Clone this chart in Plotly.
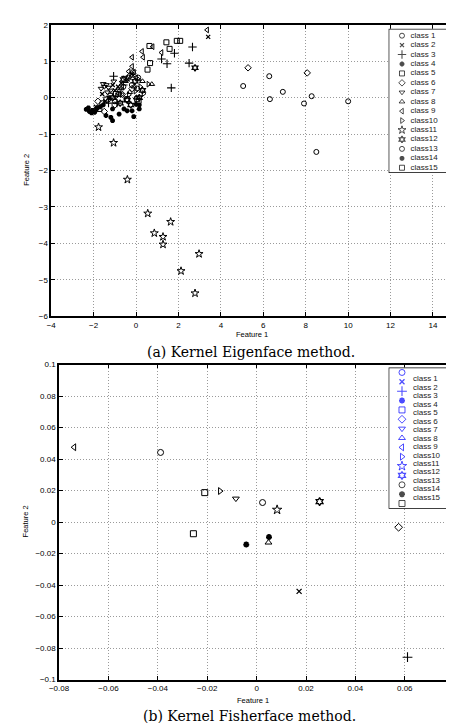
import plotly.graph_objects as go

# ---------------- data ----------------
class_labels = ["class 1", "class 2", "class 3", "class 4", "class 5", "class 6", "class 7",
                "class 8", "class 9", "class10", "class11", "class12", "class13", "class14", "class15"]

# (a) Kernel Eigenface method: one x/y list per class
eig_c01_x = [5.05, 6.28, 6.92, 6.31, 7.92, 8.28, 10.0, 8.5]
eig_c01_y = [0.32, 0.59, 0.16, -0.04, -0.16, 0.04, -0.1, -1.49]
eig_c02_x = [3.40, -1.60, -1.30, -1.00, -0.70, -1.90, -0.40, -1.10, -0.20, -1.45, -0.85]
eig_c02_y = [1.67, 0.10, 0.00, 0.20, 0.40, -0.25, 0.50, 0.35, 0.65, -0.10, 0.30]
eig_c03_x = [2.66, 2.50, 1.81, 1.46, 1.20, 1.66, -1.06, -0.90, -1.30, -0.60]
eig_c03_y = [1.39, 0.95, 1.22, 0.93, 1.06, 0.27, 0.59, -0.15, -0.15, 0.35]
eig_c04_x = [-1.42, -1.19, -1.11, -0.80, -0.57, -0.42, -0.19, -0.11, 0.00, 0.15, 0.15, -1.11]
eig_c04_y = [-0.49, -0.54, -0.63, -0.45, -0.31, -0.36, -0.36, -0.52, -0.18, -0.20, -0.31, -0.31]
eig_c05_x = [1.43, 1.92, 2.08, 1.58, -0.42, 0.05, 0.12, -1.20]
eig_c05_y = [1.52, 1.56, 1.56, 1.34, -0.04, -0.04, -0.09, 0.05]
eig_c06_x = [5.28, 8.07, -1.50, -0.65, -0.19, -1.00, -1.80, -0.30]
eig_c06_y = [0.82, 0.68, -0.38, 0.09, 0.25, -0.20, -0.10, 0.60]
eig_c07_x = [-1.55, -1.40, -1.30, -1.50, -1.20, -1.65, -1.05, -0.80, -0.55, -1.35]
eig_c07_y = [0.38, 0.35, 0.28, 0.30, 0.20, 0.25, 0.45, 0.20, 0.55, 0.15]
eig_c08_x = [0.74, -0.10, -0.30, 0.10, -0.50, 0.00, -0.20, 0.30, -0.70]
eig_c08_y = [0.37, 0.30, 0.15, 0.50, 0.45, 0.00, 0.60, 0.45, 0.25]
eig_c09_x = [3.35, 0.78, 1.20, 0.28, -0.19, 0.33, -0.19, -0.10, 0.00, -0.35]
eig_c09_y = [1.86, 1.40, 1.24, 1.27, 1.11, 1.11, 0.86, 0.70, 0.55, 0.72]
eig_c10_x = [0.58, 0.35, -0.34, -0.68, -0.03, -0.90, 0.20, -1.25]
eig_c10_y = [0.37, 0.11, 0.08, 0.09, 0.18, 0.05, 0.30, -0.05]
eig_c11_x = [-1.77, -1.06, -0.41, 0.55, 0.86, 1.27, 1.27, 1.63, 2.97, 2.12, 2.78]
eig_c11_y = [-0.81, -1.24, -2.25, -3.18, -3.72, -3.82, -4.03, -3.41, -4.29, -4.76, -5.37]
eig_c12_x = [2.78, -0.42, -0.25, -0.60, -0.05, 0.15, -1.10, -0.75, 0.30]
eig_c12_y = [0.82, -0.07, -0.20, 0.50, 0.45, 0.00, 0.00, -0.15, 0.20]
eig_c13_x = [-0.35, -0.60, -0.20, 0.10, -0.80, -1.00, -0.45, -0.15, 0.05, -1.60]
eig_c13_y = [0.55, 0.30, 0.35, 0.55, 0.10, -0.10, -0.05, 0.70, 0.25, -0.15]
eig_c14_x = [-2.35, -2.20, -2.05, -1.95, -2.25, -1.85, -1.70, -1.55, -2.10]
eig_c14_y = [-0.32, -0.38, -0.35, -0.40, -0.28, -0.30, -0.25, -0.20, -0.42]
eig_c15_x = [0.63, 0.66, 0.54, -1.73, -1.40, -0.95]
eig_c15_y = [1.42, 0.95, 0.77, -0.31, -0.05, 0.10]

# (b) Kernel Fisherface method: one point per class
fish_x = [0.0024, 0.0172, 0.0611, 0.0050, -0.0210, 0.0575, -0.0084, 0.0048,
          -0.0739, -0.0148, 0.0083, 0.0255, -0.0389, -0.0042, -0.0256]
fish_y = [0.0124, -0.0440, -0.0858, -0.0095, 0.0187, -0.0033, 0.0149, -0.0130,
          0.0475, 0.0197, 0.0078, 0.0130, 0.0442, -0.0143, -0.0074]

# tick labels
eig_xticks = [-4, -2, 0, 2, 4, 6, 8, 10, 12, 14]
eig_xticktext = ["\u22124", "\u22122", "0", "2", "4", "6", "8", "10", "12", "14"]
eig_yticks = [-6, -5, -4, -3, -2, -1, 0, 1, 2]
eig_yticktext = ["\u22126", "\u22125", "\u22124", "\u22123", "\u22122", "\u22121", "0", "1", "2"]
fish_xticks = [-0.08, -0.06, -0.04, -0.02, 0, 0.02, 0.04, 0.06, 0.08]
fish_xticktext = ["\u22120.08", "\u22120.06", "\u22120.04", "\u22120.02", "0", "0.02", "0.04", "0.06", "0.08"]
fish_yticks = [-0.1, -0.08, -0.06, -0.04, -0.02, 0, 0.02, 0.04, 0.06, 0.08, 0.1]
fish_yticktext = ["\u22120.1", "\u22120.08", "\u22120.06", "\u22120.04", "\u22120.02", "0",
                  "0.02", "0.04", "0.06", "0.08", "0.1"]

# ---------------- styles ----------------
SYMBOLS = ["circle-open", "x-thin-open", "cross-thin-open", "asterisk-open", "square-open",
           "diamond-open", "triangle-down-open", "triangle-up-open", "triangle-left-open",
           "triangle-right-open", "star-open", "hexagram-open", "circle-open", "asterisk-open",
           "square-open"]
SIZES = [5, 4, 6, 4, 5, 5, 5, 5, 5, 5, 6, 5, 5, 4, 5]
LWIDTH = [1, 1.3, 1.1, 1.8, 1, 1, 1, 1, 1, 1, 1, 1.3, 1, 1.8, 1]
FISH_LEG_COLORS = ["#0000ff"] * 12 + ["#000000"] * 3

EIG_X = [eig_c01_x, eig_c02_x, eig_c03_x, eig_c04_x, eig_c05_x, eig_c06_x, eig_c07_x, eig_c08_x,
         eig_c09_x, eig_c10_x, eig_c11_x, eig_c12_x, eig_c13_x, eig_c14_x, eig_c15_x]
EIG_Y = [eig_c01_y, eig_c02_y, eig_c03_y, eig_c04_y, eig_c05_y, eig_c06_y, eig_c07_y, eig_c08_y,
         eig_c09_y, eig_c10_y, eig_c11_y, eig_c12_y, eig_c13_y, eig_c14_y, eig_c15_y]

W, H = 454, 723
def px_x(p):
    return p / W
def px_y(p):
    return 1 - p / H

SANS = "Liberation Sans, Arial, Helvetica, sans-serif"
SERIF = "DejaVu Serif, Liberation Serif, serif"

fig = go.Figure()

# (a) data
for i in range(15):
    fig.add_trace(go.Scatter(
        x=EIG_X[i], y=EIG_Y[i], mode="markers", name=class_labels[i], showlegend=False,
        xaxis="x", yaxis="y",
        marker=dict(symbol=SYMBOLS[i], size=SIZES[i], color="black",
                    line=dict(color="black", width=LWIDTH[i]))))

# (b) data
for i in range(15):
    fig.add_trace(go.Scatter(
        x=[fish_x[i]], y=[fish_y[i]], mode="markers", name=class_labels[i], showlegend=False,
        xaxis="x2", yaxis="y2",
        marker=dict(symbol=SYMBOLS[i], size=SIZES[i] + 1, color="black",
                    line=dict(color="black", width=LWIDTH[i]))))

# legend boxes drawn in their own small axes
n = len(class_labels)
leg1_rows = [1 - (7 + 9.55 * i) / 146 for i in range(n)]
fig.add_trace(go.Scatter(
    x=[0.22] * n, y=leg1_rows, mode="markers", showlegend=False, xaxis="x3", yaxis="y3",
    hoverinfo="skip",
    marker=dict(symbol=SYMBOLS, size=SIZES, color="black",
                line=dict(color="black", width=LWIDTH))))
fig.add_trace(go.Scatter(
    x=[0.36] * n, y=leg1_rows, mode="text", text=class_labels, textposition="middle right",
    showlegend=False, xaxis="x3", yaxis="y3", hoverinfo="skip",
    textfont=dict(family=SANS, size=8, color="#222")))

leg2_mark = [1 - (5 + 9.48 * i) / 143 for i in range(n)]
leg2_text = [1 - (11.7 + 8.6 * i) / 143 for i in range(n)]
fig.add_trace(go.Scatter(
    x=[0.22] * n, y=leg2_mark, mode="markers", showlegend=False, xaxis="x4", yaxis="y4",
    hoverinfo="skip",
    marker=dict(symbol=SYMBOLS, size=[s + 1 for s in SIZES], color=FISH_LEG_COLORS,
                line=dict(color=FISH_LEG_COLORS, width=LWIDTH))))
fig.add_trace(go.Scatter(
    x=[0.40] * n, y=leg2_text, mode="text", text=class_labels, textposition="middle right",
    showlegend=False, xaxis="x4", yaxis="y4", hoverinfo="skip",
    textfont=dict(family=SANS, size=8, color="#222")))

axis_common = dict(showline=True, linecolor="black", linewidth=1.6, mirror="ticks",
                   ticks="inside", ticklen=4, tickcolor="black", tickwidth=1,
                   showgrid=True, gridcolor="#9a9a9a", griddash="1px,2px", gridwidth=0.8,
                   zeroline=False, tickfont=dict(family=SANS, size=8, color="black"))
hidden = dict(visible=False, range=[0, 1], fixedrange=True)

fig.update_layout(
    width=W, height=H, margin=dict(l=0, r=0, t=0, b=0),
    paper_bgcolor="white", plot_bgcolor="white", showlegend=False,
    xaxis=dict(domain=[px_x(34), px_x(446)], range=[-4, 15], anchor="y",
               tickvals=eig_xticks, ticktext=eig_xticktext, **axis_common),
    yaxis=dict(domain=[px_y(308), px_y(13)], range=[-6, 2], anchor="x",
               tickvals=eig_yticks, ticktext=eig_yticktext, **axis_common),
    xaxis2=dict(domain=[px_x(42), px_x(446)], range=[-0.08, 0.08], anchor="y2",
                tickvals=fish_xticks, ticktext=fish_xticktext, **axis_common),
    yaxis2=dict(domain=[px_y(676), px_y(357)], range=[-0.1, 0.1], anchor="x2",
                tickvals=fish_yticks, ticktext=fish_yticktext, **axis_common),
    xaxis3=dict(domain=[px_x(379), px_x(441)], anchor="y3", **hidden),
    yaxis3=dict(domain=[px_y(163), px_y(17)], anchor="x3", **hidden),
    xaxis4=dict(domain=[px_x(379), px_x(441)], anchor="y4", **hidden),
    yaxis4=dict(domain=[px_y(503), px_y(360)], anchor="x4", **hidden),
)

fig.add_shape(type="rect", xref="x3", yref="y3", x0=0, x1=1, y0=0, y1=1,
              line=dict(color="black", width=1.3), fillcolor="white", layer="between")
fig.add_shape(type="rect", xref="x4", yref="y4", x0=0, x1=1, y0=0, y1=1,
              line=dict(color="black", width=1.3), fillcolor="white", layer="between")

ann = [
    dict(text="Feature 1", x=px_x(239), y=px_y(327), font=dict(family=SANS, size=7.5, color="black")),
    dict(text="Feature 2", x=px_x(8), y=px_y(160), textangle=-90, font=dict(family=SANS, size=7.5, color="black")),
    dict(text="Feature 1", x=px_x(240), y=px_y(697), font=dict(family=SANS, size=7.5, color="black")),
    dict(text="Feature 2", x=px_x(8), y=px_y(516), textangle=-90, font=dict(family=SANS, size=7.5, color="black")),
    dict(text="(a) Kernel Eigenface method.", x=px_x(238), y=px_y(344), font=dict(family=SERIF, size=14, color="black")),
    dict(text="(b) Kernel Fisherface method.", x=px_x(237), y=px_y(713), font=dict(family=SERIF, size=14, color="black")),
]
for a in ann:
    fig.add_annotation(xref="paper", yref="paper", showarrow=False, xanchor="center", yanchor="middle", **a)

fig.write_html("out.html")
